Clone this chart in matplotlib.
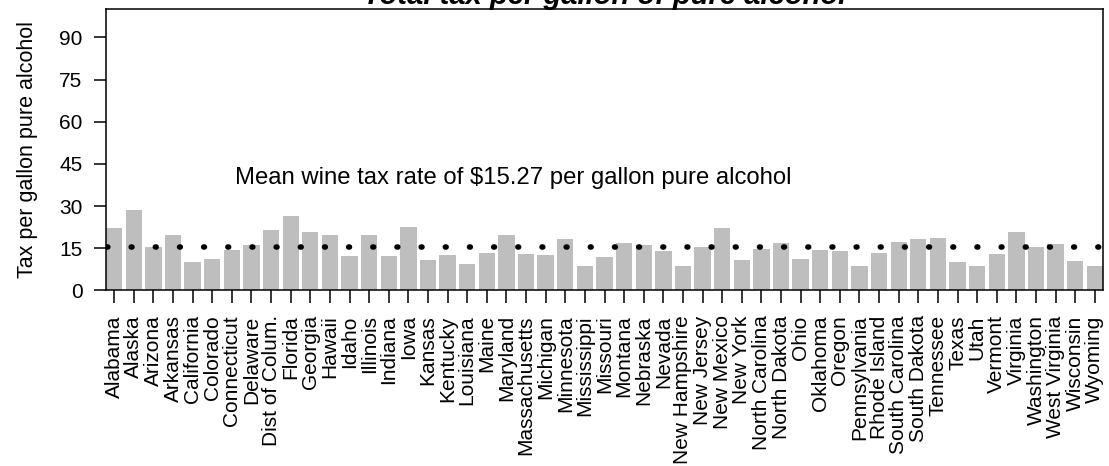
import numpy as np
import matplotlib.pyplot as plt
from matplotlib.transforms import blended_transform_factory

plt.rcParams['font.family'] = ['Liberation Sans', 'DejaVu Sans']

states = ['Alabama', 'Alaska', 'Arizona', 'Arkansas', 'California', 'Colorado',
          'Connecticut', 'Delaware', 'Dist of Colum.', 'Florida', 'Georgia', 'Hawaii',
          'Idaho', 'Illinois', 'Indiana', 'Iowa', 'Kansas', 'Kentucky', 'Louisiana',
          'Maine', 'Maryland', 'Massachusetts', 'Michigan', 'Minnesota', 'Mississippi',
          'Missouri', 'Montana', 'Nebraska', 'Nevada', 'New Hampshire', 'New Jersey',
          'New Mexico', 'New York', 'North Carolina', 'North Dakota', 'Ohio', 'Oklahoma',
          'Oregon', 'Pennsylvania', 'Rhode Island', 'South Carolina', 'South Dakota',
          'Tennessee', 'Texas', 'Utah', 'Vermont', 'Virginia', 'Washington',
          'West Virginia', 'Wisconsin', 'Wyoming']

# total tax per gallon of pure alcohol (wine), dollars
tax = [22.3, 28.6, 15.4, 19.7, 10.1, 11.1, 14.3, 16.1, 21.5, 26.5,
       20.7, 19.7, 12.2, 19.7, 12.2, 22.5, 10.8, 12.5, 9.4, 13.3,
       19.7, 12.9, 12.5, 18.2, 8.6, 11.8, 16.8, 16.1, 14.0, 8.6,
       15.4, 22.2, 10.8, 14.7, 16.8, 11.1, 14.3, 14.0, 8.6, 13.3,
       17.2, 18.2, 18.6, 10.1, 8.6, 12.9, 20.7, 15.4, 16.4, 10.5, 8.6]

mean_rate = 15.27
y_ticks = [0, 15, 30, 45, 60, 75, 90]

fig = plt.figure(figsize=(11.09, 4.66), dpi=100)
ax = fig.add_axes([106 / 1109, 1 - 290.3 / 466, 997 / 1109, 281 / 466])

# barplot-style spacing: width 1, gap 0.2
pos = np.arange(len(states)) * 1.2
ax.bar(pos, tax, width=1.0, color='#bebebe', linewidth=0)
x0, x1 = pos[0] - 0.5, pos[-1] + 0.5
ax.set_xlim(x0, x1)
ax.set_ylim(0, 100)

# dotted mean line (round caps on short dashes give dots), runs past the right edge
lw = 4.0
ax.plot([x0 + 0.08, x1 + 2], [mean_rate, mean_rate], color='black', lw=lw,
        dash_capstyle='round', linestyle=(0, (0.15, 4.2)), clip_on=True)

trans = blended_transform_factory(ax.transAxes, ax.transData)
ax.text(0.408, 40, 'Mean wine tax rate of $%.2f per gallon pure alcohol' % mean_rate,
        transform=trans, ha='center', va='center', fontsize=17.2)

ax.set_yticks(y_ticks)
ax.set_xticks(pos)
ax.set_xticklabels(states, rotation=90)
ax.tick_params(axis='both', direction='out', length=9, width=1.1,
               labelsize=15, color='black')
ax.tick_params(axis='y', pad=8)
ax.tick_params(axis='x', pad=9)
for s in ax.spines.values():
    s.set_linewidth(1.1)

ax.set_ylabel('Tax per gallon pure alcohol', fontsize=15.5)
ax.yaxis.set_label_coords(-0.068, 0.5)

fig.text(0.545, 1 - 4.5 / 466, 'Total tax per gallon of pure alcohol',
         ha='center', va='baseline', fontsize=21, fontweight='bold', style='italic')

fig.savefig('out.png', dpi=100)
